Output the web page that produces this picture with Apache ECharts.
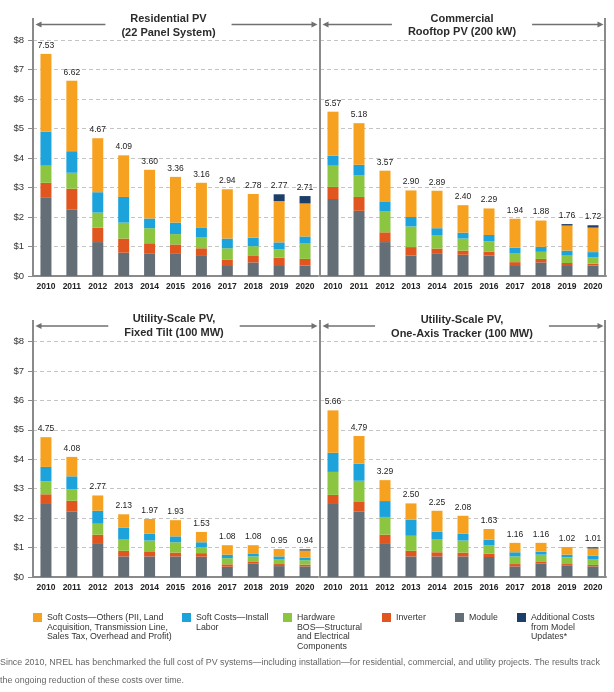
<!DOCTYPE html>
<html>
<head>
<meta charset="utf-8">
<script src="https://cdn.jsdelivr.net/npm/echarts@6/dist/echarts.min.js"></script>
<style>
  html, body { margin: 0; padding: 0; background: #fff; }
  #chart { width: 614px; height: 692px; }
</style>
</head>
<body>
<div id="chart"></div>
<script>
const years = ['2010', '2011', '2012', '2013', '2014', '2015', '2016', '2017', '2018', '2019', '2020'];
const yTicks = ['$0', '$1', '$2', '$3', '$4', '$5', '$6', '$7', '$8'];
const componentNames = ['Module', 'Inverter', 'Hardware BOS', 'Soft Costs—Install Labor', 'Soft Costs—Others', 'Additional Costs'];

// Residential PV (22 panel system), $/W
const resModule     = [2.67, 2.26, 1.15, 0.79, 0.77, 0.75, 0.68, 0.37, 0.46, 0.37, 0.35];
const resInverter   = [0.49, 0.70, 0.49, 0.48, 0.34, 0.32, 0.26, 0.19, 0.24, 0.25, 0.23];
const resHardware   = [0.58, 0.54, 0.51, 0.54, 0.51, 0.35, 0.38, 0.38, 0.31, 0.28, 0.52];
const resLabor      = [1.15, 0.73, 0.69, 0.87, 0.33, 0.39, 0.31, 0.33, 0.29, 0.24, 0.24];
const resOthers     = [2.64, 2.39, 1.83, 1.41, 1.65, 1.55, 1.53, 1.67, 1.48, 1.40, 1.12];
const resAdditional = [0, 0, 0, 0, 0, 0, 0, 0, 0, 0.23, 0.25];
const resTotal      = [7.53, 6.62, 4.67, 4.09, 3.60, 3.36, 3.16, 2.94, 2.78, 2.77, 2.71];

// Commercial rooftop PV (200 kW)
const comModule     = [2.61, 2.21, 1.15, 0.69, 0.75, 0.72, 0.69, 0.37, 0.46, 0.37, 0.35];
const comInverter   = [0.41, 0.47, 0.33, 0.29, 0.18, 0.14, 0.13, 0.10, 0.12, 0.07, 0.07];
const comHardware   = [0.72, 0.74, 0.72, 0.70, 0.46, 0.41, 0.36, 0.31, 0.24, 0.25, 0.22];
const comLabor      = [0.34, 0.35, 0.33, 0.32, 0.23, 0.20, 0.21, 0.18, 0.17, 0.17, 0.17];
const comOthers     = [1.49, 1.41, 1.04, 0.90, 1.27, 0.93, 0.90, 0.98, 0.89, 0.85, 0.83];
const comAdditional = [0, 0, 0, 0, 0, 0, 0, 0, 0, 0.05, 0.08];
const comTotal      = [5.57, 5.18, 3.57, 2.90, 2.89, 2.40, 2.29, 1.94, 1.88, 1.76, 1.72];

// Utility-scale PV, fixed tilt (100 MW)
const fixModule     = [2.51, 2.23, 1.15, 0.70, 0.70, 0.70, 0.69, 0.35, 0.45, 0.37, 0.36];
const fixInverter   = [0.30, 0.36, 0.29, 0.19, 0.15, 0.13, 0.12, 0.08, 0.08, 0.07, 0.06];
const fixHardware   = [0.44, 0.39, 0.37, 0.38, 0.39, 0.35, 0.20, 0.21, 0.17, 0.17, 0.15];
const fixLabor      = [0.49, 0.44, 0.44, 0.40, 0.23, 0.20, 0.17, 0.12, 0.10, 0.09, 0.09];
const fixOthers     = [1.01, 0.66, 0.52, 0.46, 0.50, 0.55, 0.35, 0.32, 0.28, 0.25, 0.24];
const fixAdditional = [0, 0, 0, 0, 0, 0, 0, 0, 0, 0, 0.04];
const fixTotal      = [4.75, 4.08, 2.77, 2.13, 1.97, 1.93, 1.53, 1.08, 1.08, 0.95, 0.94];

// Utility-scale PV, one-axis tracker (100 MW)
const trkModule     = [2.51, 2.23, 1.15, 0.70, 0.70, 0.70, 0.68, 0.36, 0.46, 0.38, 0.36];
const trkInverter   = [0.28, 0.34, 0.29, 0.19, 0.14, 0.13, 0.11, 0.08, 0.07, 0.06, 0.05];
const trkHardware   = [0.78, 0.70, 0.60, 0.51, 0.45, 0.41, 0.28, 0.26, 0.23, 0.23, 0.20];
const trkLabor      = [0.65, 0.58, 0.54, 0.55, 0.25, 0.23, 0.20, 0.14, 0.10, 0.09, 0.11];
const trkOthers     = [1.44, 0.94, 0.71, 0.55, 0.71, 0.61, 0.36, 0.32, 0.30, 0.26, 0.25];
const trkAdditional = [0, 0, 0, 0, 0, 0, 0, 0, 0, 0, 0.04];
const trkTotal      = [5.66, 4.79, 3.29, 2.50, 2.25, 2.08, 1.63, 1.16, 1.16, 1.02, 1.01];

const colors = ['#646e77', '#e1561f', '#8cc540', '#1ca3dc', '#f6a11f', '#1c3e69'];
const FONT = "'Liberation Sans', Arial, sans-serif";
const LINE = '#8a8a8a';

const panels = [
  { title: 'Residential PV\n(22 Panel System)', data: [resModule, resInverter, resHardware, resLabor, resOthers, resAdditional], total: resTotal },
  { title: 'Commercial\nRooftop PV (200 kW)', data: [comModule, comInverter, comHardware, comLabor, comOthers, comAdditional], total: comTotal },
  { title: 'Utility-Scale PV,\nFixed Tilt (100 MW)', data: [fixModule, fixInverter, fixHardware, fixLabor, fixOthers, fixAdditional], total: fixTotal },
  { title: 'Utility-Scale PV,\nOne-Axis Tracker (100 MW)', data: [trkModule, trkInverter, trkHardware, trkLabor, trkOthers, trkAdditional], total: trkTotal }
];

const grids = [
  { left: 33, top: 40, width: 285, height: 236 },
  { left: 320, top: 40, width: 286, height: 236 },
  { left: 33, top: 341.5, width: 285, height: 235.5 },
  { left: 320, top: 341.5, width: 286, height: 235.5 }
];

const xAxes = grids.map((g, i) => ({
  type: 'category', gridIndex: i, data: years,
  axisLine: { lineStyle: { color: LINE, width: 2 } },
  axisTick: { show: false },
  axisLabel: { color: '#222', fontFamily: FONT, fontSize: 8.5, fontWeight: 'bold', margin: 6, interval: 0 }
}));

const yAxes = grids.map((g, i) => ({
  type: 'value', gridIndex: i, min: 0, max: 8, interval: 1,
  axisLine: { show: false },
  axisTick: { show: i % 2 === 0, length: 5, lineStyle: { color: LINE, width: 1 } },
  axisLabel: {
    show: i % 2 === 0, color: '#333', fontFamily: FONT, fontSize: 9.5, margin: 9,
    formatter: v => yTicks[v]
  },
  splitLine: { lineStyle: { color: '#c4c4c4', type: [4, 3], width: 1 } }
}));

const series = [];
panels.forEach((p, pi) => {
  componentNames.forEach((name, ci) => {
    const s = {
      type: 'bar', name, xAxisIndex: pi, yAxisIndex: pi, stack: 'panel' + pi,
      barWidth: 11, data: p.data[ci], itemStyle: { color: colors[ci] },
      emphasis: { disabled: true }
    };
    if (ci === componentNames.length - 1) {
      s.label = {
        show: true, position: 'top', distance: 4, color: '#222',
        fontFamily: FONT, fontSize: 8.5,
        formatter: params => p.total[params.dataIndex].toFixed(2)
      };
    }
    series.push(s);
  });
});

// legend: one block per item, placed like the reference
const legendItems = [
  { name: 'Soft Costs—Others', text: 'Soft Costs—Others (PII, Land\nAcquisition, Transmission Line,\nSales Tax, Overhead and Profit)', left: 33 },
  { name: 'Soft Costs—Install Labor', text: 'Soft Costs—Install\nLabor', left: 182 },
  { name: 'Hardware BOS', text: 'Hardware\nBOS—Structural\nand Electrical\nComponents', left: 283 },
  { name: 'Inverter', text: 'Inverter', left: 382 },
  { name: 'Module', text: 'Module', left: 455 },
  { name: 'Additional Costs', text: 'Additional Costs\nfrom Model\nUpdates*', left: 517 }
];
const LH = 9.6;
const ICON = 9;
const ICON_TOP = 613;
const legends = legendItems.map(item => {
  const n = item.text.split('\n').length;
  // blank lines in front keep the swatch level with the first line of text
  const label = '\n'.repeat(n - 1) + item.text;
  const offset = Math.max(0, ((2 * n - 1) * LH) / 2 - ICON / 2);
  return {
    data: [item.name], left: item.left, top: ICON_TOP - offset, padding: 0,
    itemWidth: ICON, itemHeight: ICON, itemGap: 0, selectedMode: false,
    icon: 'rect',
    formatter: () => label,
    textStyle: { color: '#333', fontFamily: FONT, fontSize: 8.8, lineHeight: LH }
  };
});

// panel frames, arrows and titles
const graphic = [];
const frames = [
  { y: 24.5, top: 18, bottom: 276, titleX: 168.5, titleY: 26, x0: 33, x1: 320 },
  { y: 24.5, top: 18, bottom: 276, titleX: 462, titleY: 25.5, x0: 320, x1: 605 },
  { y: 326, top: 320, bottom: 577, titleX: 174, titleY: 326, x0: 33, x1: 320 },
  { y: 326, top: 320, bottom: 577, titleX: 462, titleY: 327, x0: 320, x1: 605 }
];
const arrowStyle = { stroke: '#707070', lineWidth: 1.5 };
frames.forEach((f, i) => {
  graphic.push({ type: 'line', z: 1, shape: { x1: f.x0, y1: f.top, x2: f.x0, y2: f.bottom }, style: { stroke: LINE, lineWidth: 2 } });
  if (i % 2 === 1) {
    graphic.push({ type: 'line', z: 1, shape: { x1: f.x1, y1: f.top, x2: f.x1, y2: f.bottom }, style: { stroke: LINE, lineWidth: 2 } });
  }
  const a0 = f.x0 + 2.5;
  const a1 = (i % 2 === 0) ? f.x1 - 2.5 : f.x1 - 1.5;
  graphic.push({ type: 'line', z: 2, shape: { x1: a0 + 4, y1: f.y, x2: a1 - 4, y2: f.y }, style: arrowStyle });
  graphic.push({ type: 'polygon', z: 2, shape: { points: [[a0, f.y], [a0 + 6, f.y - 3], [a0 + 6, f.y + 3]] }, style: { fill: '#707070' } });
  graphic.push({ type: 'polygon', z: 2, shape: { points: [[a1, f.y], [a1 - 6, f.y - 3], [a1 - 6, f.y + 3]] }, style: { fill: '#707070' } });
  graphic.push({
    type: 'text', z: 3, x: f.titleX, y: f.titleY,
    style: {
      text: panels[i].title, align: 'center', verticalAlign: 'middle',
      font: 'bold 11px ' + FONT, lineHeight: 13.5, fill: '#2b2b2b',
      backgroundColor: '#fff', padding: [0, 16]
    }
  });
});
graphic.push({
  type: 'text', x: 0, y: 654,
  style: {
    text: 'Since 2010, NREL has benchmarked the full cost of PV systems—including installation—for residential, commercial, and utility projects. The results track\nthe ongoing reduction of these costs over time.',
    verticalAlign: 'top', font: '8.9px ' + FONT, lineHeight: 18, fill: '#666'
  }
});

const chart = echarts.init(document.getElementById('chart'));
chart.setOption({
  animation: false,
  backgroundColor: '#fff',
  grid: grids.map(g => Object.assign({ containLabel: false, outerBoundsMode: 'none' }, g)),
  xAxis: xAxes,
  yAxis: yAxes,
  legend: legends,
  series,
  graphic
});
</script>
</body>
</html>
